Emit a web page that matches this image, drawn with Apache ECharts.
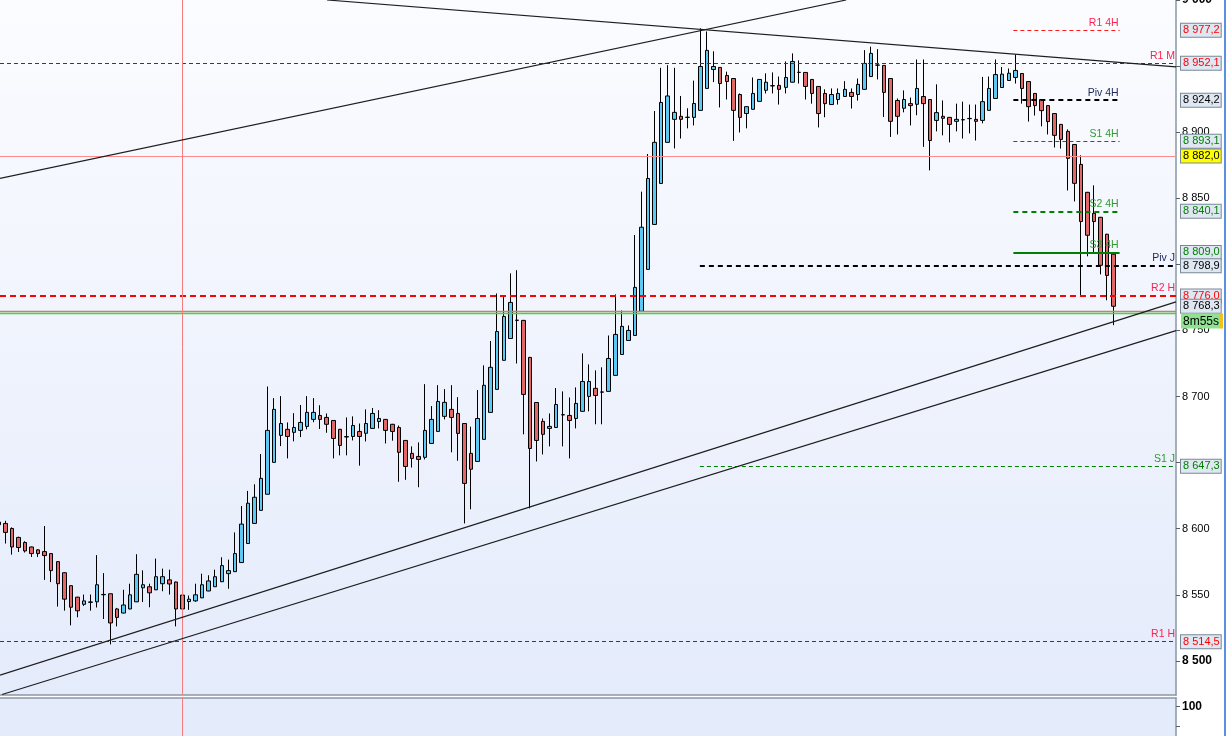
<!DOCTYPE html>
<html>
<head>
<meta charset="utf-8">
<script src="https://cdn.jsdelivr.net/npm/echarts@6/dist/echarts.min.js"></script>
<style>
html, body { margin: 0; padding: 0; background: #fff; }
#main { width: 1226px; height: 736px; }
</style>
</head>
<body>
<div id="main"></div>
<script>
// OHLC per candle, index 0 is the one cut by the left edge
const opens = [
  8605, 8604.0, 8600.2, 8593.4, 8589.6, 8586.2, 8584.0, 8582.7, 8581.2, 8575.1,
  8566.7, 8556.9, 8548.2, 8542.8, 8544.3, 8544.7, 8550.0, 8550.8, 8539.3, 8536.2,
  8539.3, 8544.7, 8555.3, 8556.1, 8553.8, 8558.4, 8561.3, 8559.7, 8549.8, 8544.9,
  8545.4, 8547.7, 8552.9, 8556.1, 8559.9, 8566.0, 8567.5, 8574.4, 8588.8, 8604.0,
  8613.9, 8626.1, 8650.2, 8670.6, 8675.2, 8672.9, 8674.4, 8677.4, 8682.7, 8685.7,
  8684.2, 8681.9, 8675.2, 8669.7, 8669.8, 8673.6, 8672.2, 8675.9, 8681.1, 8682.7,
  8679.0, 8676.6, 8666.8, 8657.0, 8654.7, 8654.0, 8664.5, 8673.6, 8685.0, 8690.3,
  8687.2, 8679.6, 8657.0, 8650.9, 8667.6, 8688.0, 8705.4, 8727.4, 8743.9, 8757.6,
  8757.6, 8729.6, 8695.5, 8681.2, 8675.9, 8676.6, 8686.3, 8685.7, 8683.4, 8688.8,
  8700.1, 8706.2, 8703.3, 8703.9, 8716.0, 8731.8, 8742.4, 8746.2, 8764.5, 8796.2,
  8830.2, 8861.2, 8892.3, 8909.7, 8912.0, 8911.2, 8911.2, 8916.5, 8933.1, 8947.4,
  8949.0, 8942.9, 8940.6, 8928.5, 8914.1, 8917.3, 8923.3, 8931.7, 8935.2, 8935.4,
  8933.9, 8937.8, 8945.2, 8945.2, 8939.9, 8934.6, 8929.3, 8920.9, 8924.7, 8927.0,
  8930.1, 8928.5, 8932.4, 8942.1, 8950.7, 8950.5, 8940.6, 8924.0, 8918.1, 8921.6,
  8921.1, 8927.0, 8924.7, 8908.9, 8912.0, 8911.2, 8908.2, 8909.5, 8910.2, 8909.7,
  8908.9, 8916.5, 8925.5, 8933.8, 8939.1, 8941.4, 8944.4, 8938.3, 8929.3, 8924.7,
  8920.1, 8914.1, 8905.9, 8900.6, 8890.7, 8875.6, 8854.5, 8838.6, 8835.6, 8822.8,
  8807.7
];
const closes = [
  8603, 8597.2, 8586.2, 8585.8, 8583.2, 8581.2, 8581.2, 8579.7, 8568.3, 8558.4,
  8546.7, 8540.6, 8537.9, 8545.4, 8544.6, 8557.6, 8550.3, 8528.7, 8532.9, 8542.3,
  8550.0, 8565.5, 8557.6, 8551.5, 8563.7, 8563.7, 8558.2, 8539.3, 8539.3, 8546.7,
  8550.0, 8557.6, 8560.5, 8563.7, 8572.1, 8568.3, 8581.2, 8603.5, 8619.3, 8623.8,
  8638.1, 8674.4, 8690.3, 8679.6, 8669.8, 8676.6, 8680.4, 8688.0, 8688.0, 8682.7,
  8679.0, 8668.3, 8663.0, 8669.4, 8678.1, 8669.8, 8679.6, 8687.2, 8683.4, 8674.4,
  8673.6, 8657.8, 8647.1, 8653.2, 8652.4, 8674.4, 8682.7, 8696.3, 8695.6, 8684.2,
  8672.1, 8634.3, 8645.0, 8683.4, 8708.5, 8722.1, 8749.2, 8760.6, 8771.2, 8757.8,
  8701.6, 8660.7, 8666.8, 8671.4, 8677.4, 8694.0, 8686.1, 8681.9, 8694.8, 8711.4,
  8711.4, 8700.8, 8703.5, 8728.8, 8747.0, 8753.1, 8750.0, 8782.6, 8828.1, 8865.0,
  8892.3, 8922.5, 8927.4, 8915.0, 8909.7, 8911.3, 8921.7, 8949.7, 8961.9, 8949.7,
  8936.8, 8938.3, 8916.5, 8911.2, 8919.3, 8929.3, 8939.9, 8937.8, 8935.0, 8932.4,
  8941.4, 8953.5, 8945.3, 8934.6, 8929.3, 8914.1, 8921.6, 8928.5, 8929.3, 8932.4,
  8927.0, 8936.2, 8952.0, 8959.6, 8950.8, 8930.1, 8908.2, 8912.0, 8924.7, 8920.1,
  8933.1, 8921.6, 8893.7, 8914.8, 8910.5, 8905.9, 8909.7, 8909.3, 8910.4, 8908.2,
  8923.1, 8933.1, 8943.6, 8943.9, 8944.6, 8946.7, 8933.1, 8919.3, 8920.1, 8916.3,
  8908.0, 8897.6, 8894.5, 8880.2, 8861.3, 8832.4, 8822.0, 8832.4, 8799.3, 8791.6,
  8768.3
];
const lows = [
  8600, 8588.8, 8580.4, 8582.4, 8582.0, 8578.6, 8578.6, 8561.3, 8559.6, 8541.1,
  8538.0, 8526.9, 8533.0, 8541.6, 8538.0, 8540.4, 8531.7, 8512.5, 8526.1, 8536.0,
  8539.0, 8544.5, 8544.5, 8540.6, 8553.5, 8552.7, 8550.2, 8526.1, 8537.0, 8538.6,
  8544.7, 8547.5, 8552.7, 8556.0, 8559.7, 8554.6, 8567.3, 8574.2, 8588.6, 8603.8,
  8613.7, 8626.0, 8650.0, 8662.5, 8653.2, 8666.1, 8669.3, 8675.2, 8680.6, 8675.5,
  8672.6, 8653.2, 8655.5, 8655.5, 8666.8, 8647.7, 8666.0, 8675.7, 8675.9, 8664.5,
  8666.6, 8635.5, 8637.0, 8646.3, 8631.4, 8652.4, 8664.3, 8673.4, 8682.7, 8657.8,
  8651.4, 8604.0, 8614.7, 8650.7, 8667.4, 8687.8, 8705.2, 8727.2, 8743.7, 8725.0,
  8671.4, 8615.4, 8650.9, 8656.2, 8662.3, 8676.4, 8662.3, 8653.2, 8675.9, 8688.6,
  8688.8, 8679.0, 8679.0, 8703.7, 8715.8, 8731.6, 8742.2, 8746.0, 8764.3, 8796.0,
  8830.0, 8861.0, 8892.1, 8887.7, 8895.2, 8902.9, 8905.1, 8916.3, 8932.9, 8937.9,
  8918.7, 8924.7, 8893.4, 8899.8, 8902.9, 8917.1, 8923.1, 8929.3, 8929.3, 8920.9,
  8929.3, 8937.6, 8936.8, 8924.7, 8921.6, 8903.6, 8911.3, 8920.7, 8920.9, 8926.8,
  8917.9, 8923.9, 8932.2, 8941.9, 8939.9, 8911.5, 8896.4, 8898.3, 8915.0, 8905.1,
  8912.8, 8888.9, 8871.1, 8900.6, 8897.6, 8892.3, 8900.6, 8895.2, 8899.1, 8893.7,
  8906.7, 8916.3, 8925.3, 8933.6, 8938.9, 8936.8, 8921.6, 8908.0, 8912.6, 8904.4,
  8898.3, 8888.4, 8887.6, 8855.9, 8847.6, 8775.9, 8806.1, 8808.4, 8792.4, 8772.8,
  8754.0
];
const highs = [
  8607, 8606.0, 8601.0, 8594.0, 8590.5, 8586.5, 8584.5, 8602.0, 8581.5, 8575.5,
  8567.0, 8557.2, 8548.5, 8550.2, 8550.2, 8580.0, 8566.4, 8551.0, 8540.1, 8553.8,
  8558.4, 8580.7, 8568.5, 8558.4, 8577.4, 8569.8, 8569.0, 8560.0, 8550.0, 8549.5,
  8558.4, 8566.0, 8564.8, 8569.0, 8578.4, 8576.6, 8597.2, 8617.2, 8628.6, 8633.6,
  8656.5, 8707.6, 8698.8, 8700.3, 8680.4, 8687.4, 8693.6, 8700.3, 8698.8, 8693.4,
  8687.2, 8682.2, 8675.5, 8684.2, 8685.0, 8679.6, 8690.3, 8691.3, 8689.7, 8683.0,
  8679.3, 8678.1, 8667.1, 8662.3, 8665.3, 8709.4, 8692.8, 8708.6, 8705.6, 8708.6,
  8699.5, 8680.0, 8677.2, 8704.9, 8723.6, 8742.0, 8778.0, 8775.5, 8793.2, 8795.6,
  8758.0, 8730.0, 8695.8, 8683.4, 8687.2, 8706.4, 8703.9, 8699.3, 8706.9, 8732.6,
  8724.3, 8719.8, 8722.1, 8746.2, 8777.3, 8765.1, 8753.8, 8822.2, 8855.0, 8883.5,
  8916.0, 8948.7, 8950.7, 8948.7, 8927.4, 8918.1, 8939.0, 8978.6, 8976.2, 8961.2,
  8949.3, 8945.8, 8940.9, 8929.3, 8919.6, 8941.4, 8940.2, 8944.5, 8945.2, 8942.1,
  8953.5, 8959.6, 8954.3, 8945.5, 8940.2, 8934.9, 8932.4, 8933.1, 8933.1, 8938.6,
  8933.1, 8940.6, 8962.1, 8964.7, 8962.8, 8950.8, 8940.9, 8925.5, 8931.6, 8926.2,
  8955.0, 8955.0, 8925.0, 8936.2, 8924.0, 8911.5, 8921.6, 8923.1, 8920.9, 8920.9,
  8941.8, 8942.1, 8955.0, 8949.3, 8948.2, 8958.8, 8944.7, 8938.6, 8929.6, 8925.0,
  8920.4, 8914.4, 8906.2, 8902.1, 8891.0, 8882.5, 8854.8, 8859.8, 8835.9, 8823.1,
  8808.0
];

const priceTicks = [8500, 8550, 8600, 8650, 8700, 8750, 8800, 8850, 8900, 8950, 9000];
// labels that are not covered by a price tag
const priceLabels = [8500, 8550, 8600, 8700, 8750, 8850, 8900, 9000];
const volTicks = [100, 50];

// 4H pivots (short segments on the right)
const pivot4hNames = ['R1 4H', 'Piv 4H', 'S1 4H', 'S2 4H', 'S3 4H'];
const pivot4hValues = [8977.2, 8924.2, 8893.1, 8840.1, 8809.0];
const pivot4hFrom = 154.7;
const pivot4hTo = 170.9;
// daily pivots
const dailyNames = ['Piv J', 'S1 J'];
const dailyValues = [8798.9, 8647.3];
const dailyFrom = 106.9;
// full width levels
const fullNames = ['R1 M', 'R2 H', 'R1 H'];
const fullValues = [8952.1, 8776.0, 8514.5];
const refLine = 8882.0;
const bidAsk = [8764.2, 8762.7];
const lastPrice = 8768.3;
const timerText = '8m55s';
const timerPrice = 8757.1;
const markerIndex = 28;

// trend lines: [[x, price], [x, price]]
const trendLines = [
  [[0.186, 8865.1], [129.2, 9000.0]],
  [[50.05, 9000.0], [179.5, 8949.4]],
  [[0.186, 8489.2], [179.5, 8771.6]],
  [[0.5, 8474.6], [179.5, 8749.9]]
];

const FONT = 'Liberation Sans, Arial, sans-serif';
const RED = '#ff0000', GREEN = '#008000', BLACK = '#000000';

function fmt(v, d) {
  const s = v.toFixed(d);
  const parts = s.split('.');
  const i = parts[0];
  return i.slice(0, -3) + ' ' + i.slice(-3) + (parts[1] ? ',' + parts[1] : '');
}

const candles = opens.map((o, i) => [i, o, closes[i], lows[i], highs[i]]);

function nameColor(n) {
  if (n.indexOf('Piv') === 0) return '#1b2759';
  if (n.indexOf('S') === 0) return '#2f9a2f';
  return '#ff2050';
}
function levelStyle(n) {
  const map = {
    'R1 4H': { color: '#ff1a1a', width: 1, type: [4, 3] },
    'Piv 4H': { color: BLACK, width: 2, type: [5, 4] },
    'S1 4H': { color: GREEN, width: 1, type: [4, 3] },
    'S2 4H': { color: GREEN, width: 2, type: [5, 4] },
    'S3 4H': { color: GREEN, width: 2, type: 'solid' },
    'Piv J': { color: BLACK, width: 2, type: [5, 4] },
    'S1 J': { color: GREEN, width: 1, type: [4, 3] },
    'R1 M': { color: '#c80000', width: 1, type: [4, 3] },
    'R2 H': { color: RED, width: 2, type: [6, 4] },
    'R1 H': { color: '#c80000', width: 1, type: [4, 3] }
  };
  return map[n];
}
function nameLabel(n) {
  return {
    show: true, position: 'insideEndTop', distance: [1, 2], formatter: n,
    color: nameColor(n), fontSize: 10.5, fontFamily: FONT
  };
}
function tag(value, text, color, bg) {
  return {
    yAxis: value,
    lineStyle: { color: 'rgba(0,0,0,0)', width: 0 },
    label: {
      show: true, position: 'end', distance: 5, formatter: text,
      color: color, fontSize: 11, fontFamily: FONT, lineHeight: 12,
      backgroundColor: bg || '#dfe7f2', borderColor: '#7a8896', borderWidth: 1,
      padding: [1, 1, 0, 2]
    }
  };
}

const lineItems = [];
pivot4hNames.forEach((n, i) => {
  lineItems.push([
    { coord: [pivot4hFrom, pivot4hValues[i]], lineStyle: levelStyle(n), label: nameLabel(n) },
    { coord: [pivot4hTo, pivot4hValues[i]] }
  ]);
});
dailyNames.forEach((n, i) => {
  lineItems.push([
    { coord: [dailyFrom, dailyValues[i]], lineStyle: levelStyle(n), label: nameLabel(n) },
    { coord: [179.5, dailyValues[i]] }
  ]);
});
fullNames.forEach((n, i) => {
  lineItems.push({ yAxis: fullValues[i], lineStyle: levelStyle(n), label: nameLabel(n) });
});
lineItems.push({ yAxis: refLine, lineStyle: { color: '#ff8c8c', width: 1, type: 'solid' }, label: { show: false } });
lineItems.push({ yAxis: bidAsk[0], lineStyle: { color: '#c8806e', width: 1.3, type: 'solid' }, label: { show: false } });
lineItems.push({ yAxis: bidAsk[1], lineStyle: { color: '#3fd83f', width: 1.3, type: 'solid' }, label: { show: false } });
lineItems.push({ xAxis: markerIndex, lineStyle: { color: '#f47c7c', width: 1, type: 'solid' }, label: { show: false } });
trendLines.forEach(t => {
  lineItems.push([
    { coord: t[0], lineStyle: { color: '#1e1e1e', width: 1.2, type: 'solid' }, label: { show: false } },
    { coord: t[1] }
  ]);
});

// price tags on the axis
const tagColors = {
  8977.2: RED, 8952.1: RED, 8924.2: BLACK, 8893.1: GREEN, 8840.1: GREEN,
  8809.0: GREEN, 8798.9: BLACK, 8776.0: RED, 8647.3: GREEN, 8514.5: RED
};
pivot4hValues.concat(dailyValues, fullValues).forEach(v => {
  lineItems.push(tag(v, fmt(v, 1), tagColors[v]));
});
lineItems.push(tag(refLine, fmt(refLine, 1), BLACK, '#ffff00'));
lineItems.push(tag(lastPrice, fmt(lastPrice, 1), BLACK));
lineItems.push({
  yAxis: timerPrice,
  lineStyle: { color: 'rgba(0,0,0,0)', width: 0 },
  label: {
    show: true, position: 'end', distance: 5,
    formatter: '{a|' + timerText + '}{b|}',
    rich: {
      a: { color: BLACK, fontSize: 12, fontFamily: FONT, backgroundColor: '#8fe28f', padding: [2, 1, 1, 2], lineHeight: 12 },
      b: { backgroundColor: '#f2c21a', width: 3, height: 15 }
    }
  }
});

const chart = echarts.init(document.getElementById('main'), null, { renderer: 'canvas' });

chart.setOption({
  animation: false,
  backgroundColor: '#ffffff',
  grid: [
    {
      left: 0, right: 50, top: 0, height: 695, show: true, borderWidth: 0,
      containLabel: false, outerBoundsMode: 'none',
      backgroundColor: new echarts.graphic.LinearGradient(0, 0, 0, 1, [
        { offset: 0, color: '#fbfcff' }, { offset: 1, color: '#e4ebfb' }
      ])
    },
    {
      left: 0, right: 50, top: 698, height: 38, show: true, borderWidth: 0,
      containLabel: false, outerBoundsMode: 'none',
      backgroundColor: '#e4ebfa'
    }
  ],
  xAxis: [
    {
      gridIndex: 0, type: 'value', min: 0.186, max: 179.5,
      axisLine: { show: true, onZero: false, lineStyle: { color: '#8a97a5', width: 1.5 } },
      axisTick: { show: false }, axisLabel: { show: false }, splitLine: { show: false }
    },
    {
      gridIndex: 1, type: 'value', min: 0.186, max: 179.5, position: 'top',
      axisLine: { show: true, onZero: false, lineStyle: { color: '#8a97a5', width: 1.5 } },
      axisTick: { show: false }, axisLabel: { show: false }, splitLine: { show: false }
    }
  ],
  yAxis: [
    {
      gridIndex: 0, type: 'value', position: 'right', min: 8474.2, max: 9000,
      axisLine: { show: true, lineStyle: { color: '#8797a7', width: 1.5 } },
      axisTick: { show: true, length: 4, lineStyle: { color: '#55606a' }, customValues: priceTicks },
      axisLabel: {
        margin: 6, color: BLACK, fontSize: 11, fontFamily: FONT, customValues: priceLabels,
        formatter: v => (v % 500 === 0 ? '{b|' + fmt(v, 0) + '}' : fmt(v, 0)),
        rich: { b: { fontWeight: 'bold', fontSize: 12, color: BLACK, fontFamily: FONT } }
      },
      splitLine: { show: false }
    },
    {
      gridIndex: 1, type: 'value', position: 'right', min: 24, max: 122.5,
      axisLine: { show: true, lineStyle: { color: '#8797a7', width: 1.5 } },
      axisTick: { show: true, length: 4, lineStyle: { color: '#55606a' }, customValues: volTicks },
      axisLabel: {
        margin: 6, color: BLACK, fontSize: 12, fontWeight: 'bold', fontFamily: FONT,
        customValues: [100]
      },
      splitLine: { show: false }
    }
  ],
  series: [
    {
      type: 'candlestick',
      xAxisIndex: 0, yAxisIndex: 0,
      data: candles,
      encode: { x: 0, y: [1, 2, 3, 4] },
      barWidth: 4,
      itemStyle: {
        color: '#5cc8f4', color0: '#e26868',
        borderColor: '#000', borderColor0: '#000', borderWidth: 1
      },
      markLine: {
        silent: true, animation: false, symbol: ['none', 'none'],
        data: lineItems
      }
    },
    {
      type: 'line',
      xAxisIndex: 1, yAxisIndex: 1,
      data: [],
      markLine: {
        silent: true, animation: false, symbol: ['none', 'none'],
        label: { show: false },
        data: [{ xAxis: markerIndex, lineStyle: { color: '#f47c7c', width: 1, type: 'solid' } }]
      }
    }
  ],
  graphic: [
    { type: 'rect', left: 1224, top: 0, shape: { width: 2, height: 736 }, style: { fill: '#5b8fe0' }, silent: true }
  ]
});
</script>
</body>
</html>
